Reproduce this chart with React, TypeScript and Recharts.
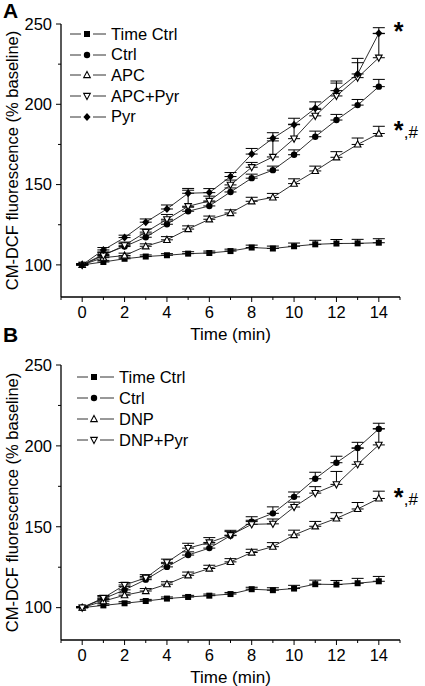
import React from 'react';
import { LineChart, Line, XAxis, YAxis, ErrorBar, Legend, ReferenceDot } from 'recharts';

const FONT = '"Liberation Sans", Arial, Helvetica, sans-serif';

// time points (min)
const time = [0, 1, 2, 3, 4, 5, 6, 7, 8, 9, 10, 11, 12, 13, 14];

// Panel A values (% baseline) and upper SEM
const aTimeCtrl = [100, 101.8, 103.8, 105.2, 106, 107, 107.4, 108.6, 110.8, 110.2, 111.6, 112.8, 113.3, 113.4, 113.8];
const aTimeCtrlErr = [0.8, 1, 1, 1, 1, 1.2, 1.2, 1.2, 1.5, 1.5, 2, 2.5, 2.5, 2.5, 2.5];
const aCtrl = [100, 106.5, 111.4, 117.2, 125.3, 133.4, 136.7, 145.4, 154, 159, 168.6, 179.8, 190.2, 199.5, 211];
const aCtrlErr = [0.5, 1.5, 2, 2, 2, 2.5, 2.5, 2.5, 2.5, 2.5, 3, 3.5, 3.5, 3.5, 4.5];
const aApc = [100, 104.5, 105.8, 111.6, 115.6, 122.3, 128.4, 132.3, 139.6, 142, 150.6, 158.5, 167, 175, 181.8];
const aApcErr = [0.5, 1, 1.5, 1.5, 2, 2, 2, 2, 2.5, 2.5, 3, 3, 3.5, 4, 4.5];
const aApcPyr = [100, 105.8, 112.2, 120.4, 128.4, 136.5, 139.8, 149.8, 160.8, 167.2, 178.6, 192.8, 205.2, 216.6, 229];
const aApcPyrErr = [0.5, 2, 2, 2, 3, 10, 3, 3, 3, 10, 9, 4, 8, 12, 15];
const aPyr = [100, 109.3, 117, 126.6, 134.8, 144.6, 145, 155, 169, 178.8, 187.3, 197.5, 208.5, 218.9, 244.2];
const aPyrErr = [0.5, 1.5, 1.5, 2, 2.5, 3, 2.5, 2.5, 3.5, 3.5, 4, 4, 6, 7, 3.5];

// Panel B values (% baseline) and upper SEM
const bTimeCtrl = [100, 101.4, 102.7, 104.1, 105.6, 106.6, 107.4, 108.4, 111.4, 110.8, 111.8, 114.5, 114.3, 115.1, 116.3];
const bTimeCtrlErr = [0.5, 1, 1, 1, 1, 1, 1, 1, 1.2, 1.5, 2, 2.5, 2.5, 3, 3];
const bCtrl = [100, 105.5, 111, 117.3, 125.2, 132.5, 136.8, 144.5, 153.2, 158.3, 168.5, 179.7, 189.6, 198.7, 210.5];
const bCtrlErr = [0.5, 1.5, 2, 2, 2, 2, 2.5, 2.5, 3, 4, 3, 4, 4, 3.5, 3.5];
const bDnp = [100, 104, 107.7, 110.3, 114.5, 120, 124.2, 128.3, 134.1, 137.7, 144.9, 150.3, 155.2, 161, 167.5];
const bDnpErr = [0.5, 1, 1.5, 1.5, 1.5, 2, 2, 2, 2, 2.5, 3, 3, 3.5, 4, 4.5];
const bDnpPyr = [100, 106, 114, 118.4, 128, 136.8, 140.3, 144.8, 151.5, 151.8, 162.2, 170.8, 176.2, 188.6, 200.6];
const bDnpPyrErr = [0.5, 1.5, 1.5, 2, 2, 3, 3, 3, 2.5, 3, 3, 4, 8, 10, 10];

const xTicks = [-1, 0, 1, 2, 3, 4, 5, 6, 7, 8, 9, 10, 11, 12, 13, 14, 15];
const yTicks = [100, 125, 150, 175, 200, 225, 250];

type Shape = 'square' | 'circle' | 'triUp' | 'triDown' | 'diamond';

interface Series {
  key: string;
  name: string;
  shape: Shape;
  values: number[];
  err: number[];
}

const seriesA: Series[] = [
  { key: 'timeCtrl', name: 'Time Ctrl', shape: 'square', values: aTimeCtrl, err: aTimeCtrlErr },
  { key: 'ctrl', name: 'Ctrl', shape: 'circle', values: aCtrl, err: aCtrlErr },
  { key: 'apc', name: 'APC', shape: 'triUp', values: aApc, err: aApcErr },
  { key: 'apcPyr', name: 'APC+Pyr', shape: 'triDown', values: aApcPyr, err: aApcPyrErr },
  { key: 'pyr', name: 'Pyr', shape: 'diamond', values: aPyr, err: aPyrErr },
];

const seriesB: Series[] = [
  { key: 'timeCtrl', name: 'Time Ctrl', shape: 'square', values: bTimeCtrl, err: bTimeCtrlErr },
  { key: 'ctrl', name: 'Ctrl', shape: 'circle', values: bCtrl, err: bCtrlErr },
  { key: 'dnp', name: 'DNP', shape: 'triUp', values: bDnp, err: bDnpErr },
  { key: 'dnpPyr', name: 'DNP+Pyr', shape: 'triDown', values: bDnpPyr, err: bDnpPyrErr },
];

// only upper error bars, so low bound is 0
const buildRows = (series: Series[]) =>
  time.map((t, i) => {
    const row: { [k: string]: any } = { t };
    series.forEach((s) => {
      row[s.key] = s.values[i];
      row[s.key + 'Err'] = [0, s.err[i]];
    });
    return row;
  });

const Marker = ({ shape, cx, cy }: { shape: Shape; cx: number; cy: number }) => {
  switch (shape) {
    case 'square':
      return <rect x={cx - 3} y={cy - 3} width={6} height={6} fill="#000" />;
    case 'circle':
      return <circle cx={cx} cy={cy} r={3.2} fill="#000" />;
    case 'triUp':
      return (
        <polygon
          points={`${cx},${cy - 3.6} ${cx + 3.3},${cy + 2.6} ${cx - 3.3},${cy + 2.6}`}
          fill="#fff"
          stroke="#000"
          strokeWidth={1.1}
        />
      );
    case 'triDown':
      return (
        <polygon
          points={`${cx},${cy + 3.6} ${cx + 3.3},${cy - 2.6} ${cx - 3.3},${cy - 2.6}`}
          fill="#fff"
          stroke="#000"
          strokeWidth={1.1}
        />
      );
    default:
      return <polygon points={`${cx},${cy - 4} ${cx + 3.6},${cy} ${cx},${cy + 4} ${cx - 3.6},${cy}`} fill="#000" />;
  }
};

const XTick = (props: any) => {
  const { x, y, payload } = props;
  const v = payload.value;
  const major = v % 2 === 0 && v >= 0 && v <= 14;
  return (
    <g>
      <line x1={x} y1={y} x2={x} y2={y + (major ? 5 : 3)} stroke="#000" strokeWidth={1} />
      {major && (
        <text x={x} y={y + 21} textAnchor="middle" fontSize={16.5} fontFamily={FONT} fill="#000">
          {v}
        </text>
      )}
    </g>
  );
};

const YTick = (props: any) => {
  const { x, y, payload } = props;
  const v = payload.value;
  const major = v % 50 === 0;
  return (
    <g>
      <line x1={x} y1={y} x2={x - (major ? 5 : 3)} y2={y} stroke="#000" strokeWidth={1} />
      {major && (
        <text x={x - 9} y={y + 5.8} textAnchor="end" fontSize={16.5} fontFamily={FONT} fill="#000">
          {v}
        </text>
      )}
    </g>
  );
};

const YTitle = (props: any) => {
  const vb = props.viewBox || { x: 0, y: 0, width: 0, height: 0 };
  const cx = vb.x + 18;
  const cy = vb.y + vb.height / 2;
  return (
    <text x={cx} y={cy} transform={`rotate(-90 ${cx} ${cy})`} textAnchor="middle" fontSize={16.5} fontFamily={FONT} fill="#000">
      CM-DCF fluorescence (% baseline)
    </text>
  );
};

const XTitle = (props: any) => {
  const vb = props.viewBox || { x: 0, y: 0, width: 0, height: 0 };
  return (
    <text x={vb.x + vb.width / 2} y={vb.y + 43} textAnchor="middle" fontSize={17} fontFamily={FONT} fill="#000">
      Time (min)
    </text>
  );
};

// significance mark to the right of the last point
const annotation = (rest: string, dy: number) => (props: any) => {
  const vb = props.viewBox || { x: 0, y: 0, width: 0, height: 0 };
  const x = vb.x + vb.width / 2 + 15;
  const y = vb.y + vb.height / 2 + dy;
  return (
    <g>
      <text x={x} y={y} fontFamily={FONT} fontSize={25} fontWeight="bold" fill="#000">
        *
      </text>
      {rest && (
        <text x={x + 10} y={y - 1} fontFamily={FONT} fontSize={17} fill="#000">
          {rest}
        </text>
      )}
    </g>
  );
};

const makeLegend = (series: Series[], rowH: number, lineW: number) => () => (
  <div style={{ fontFamily: FONT }}>
    {series.map((s) => (
      <div key={s.key} style={{ display: 'flex', alignItems: 'center', height: rowH }}>
        <svg width={lineW} height={12} style={{ display: 'block' }}>
          <line x1={0} y1={6} x2={11} y2={6} stroke="#333" strokeWidth={1} />
          <Marker shape={s.shape} cx={17} cy={6} />
          <line x1={23} y1={6} x2={lineW - 5} y2={6} stroke="#333" strokeWidth={1} />
        </svg>
        <span style={{ fontSize: 16.5, lineHeight: 1, color: '#000', whiteSpace: 'nowrap' }}>{s.name}</span>
      </div>
    ))}
  </div>
);

interface PanelProps {
  series: Series[];
  height: number;
  xAxisHeight: number;
  legendLeft: number;
  legendTop: number;
  rowH: number;
  lineW: number;
  annotations: { y: number; rest: string; dy: number }[];
}

const Panel = ({ series, height, xAxisHeight, legendLeft, legendTop, rowH, lineW, annotations }: PanelProps) => {
  const data = buildRows(series);
  return (
    <LineChart width={425} height={height} data={data} margin={{ top: 24, right: 25, left: 0, bottom: 0 }}>
      <XAxis
        dataKey="t"
        type="number"
        domain={[-1, 15]}
        ticks={xTicks}
        interval={0}
        tickSize={0}
        tickMargin={0}
        tickLine={false}
        tick={XTick}
        height={xAxisHeight}
        axisLine={{ stroke: '#000', strokeWidth: 1.3 }}
        label={XTitle}
      />
      <YAxis
        type="number"
        domain={[80, 250]}
        ticks={yTicks}
        interval={0}
        tickSize={0}
        tickMargin={0}
        tickLine={false}
        tick={YTick}
        width={61}
        axisLine={{ stroke: '#000', strokeWidth: 1.3 }}
        label={YTitle}
      />
      <Legend
        layout="vertical"
        align="center"
        verticalAlign="middle"
        wrapperStyle={{ left: legendLeft, top: legendTop, width: 200 }}
        content={makeLegend(series, rowH, lineW)}
      />
      {series.map((s) => (
        <Line
          key={s.key}
          dataKey={s.key}
          name={s.name}
          type="linear"
          stroke="#1a1a1a"
          strokeWidth={0.9}
          isAnimationActive={false}
          activeDot={false}
          dot={(p: any) => <Marker key={`${s.key}-${p.index}`} shape={s.shape} cx={p.cx} cy={p.cy} />}
        >
          <ErrorBar dataKey={s.key + 'Err'} width={6} stroke="#000" strokeWidth={1} direction="y" isAnimationActive={false} />
        </Line>
      ))}
      {annotations.map((a, i) => (
        <ReferenceDot key={i} x={14} y={a.y} r={1} fill="none" stroke="none" label={annotation(a.rest, a.dy)} />
      ))}
    </LineChart>
  );
};

const panelLabel: React.CSSProperties = {
  position: 'absolute',
  left: 3,
  fontFamily: FONT,
  fontWeight: 'bold',
  fontSize: 21,
  lineHeight: '21px',
  color: '#000',
};

export default function App() {
  return (
    <div style={{ position: 'absolute', left: 0, top: 0, width: 425, height: 686, background: '#fff', overflow: 'hidden' }}>
      <div style={{ position: 'absolute', left: 0, top: 0 }}>
        <Panel
          series={seriesA}
          height={345}
          xAxisHeight={48}
          legendLeft={70}
          legendTop={23.6}
          rowH={20.7}
          lineW={41}
          annotations={[
            { y: aPyr[14], rest: '', dy: 7 },
            { y: aApc[14], rest: ',#', dy: 5.5 },
          ]}
        />
      </div>
      <div style={{ position: 'absolute', left: 0, top: 341 }}>
        <Panel
          series={seriesB}
          height={345}
          xAxisHeight={46}
          legendLeft={77}
          legendTop={25.5}
          rowH={21}
          lineW={42}
          annotations={[{ y: bDnp[14], rest: ',#', dy: 7.5 }]}
        />
      </div>
      <div style={{ ...panelLabel, top: 0 }}>A</div>
      <div style={{ ...panelLabel, top: 324 }}>B</div>
    </div>
  );
}
